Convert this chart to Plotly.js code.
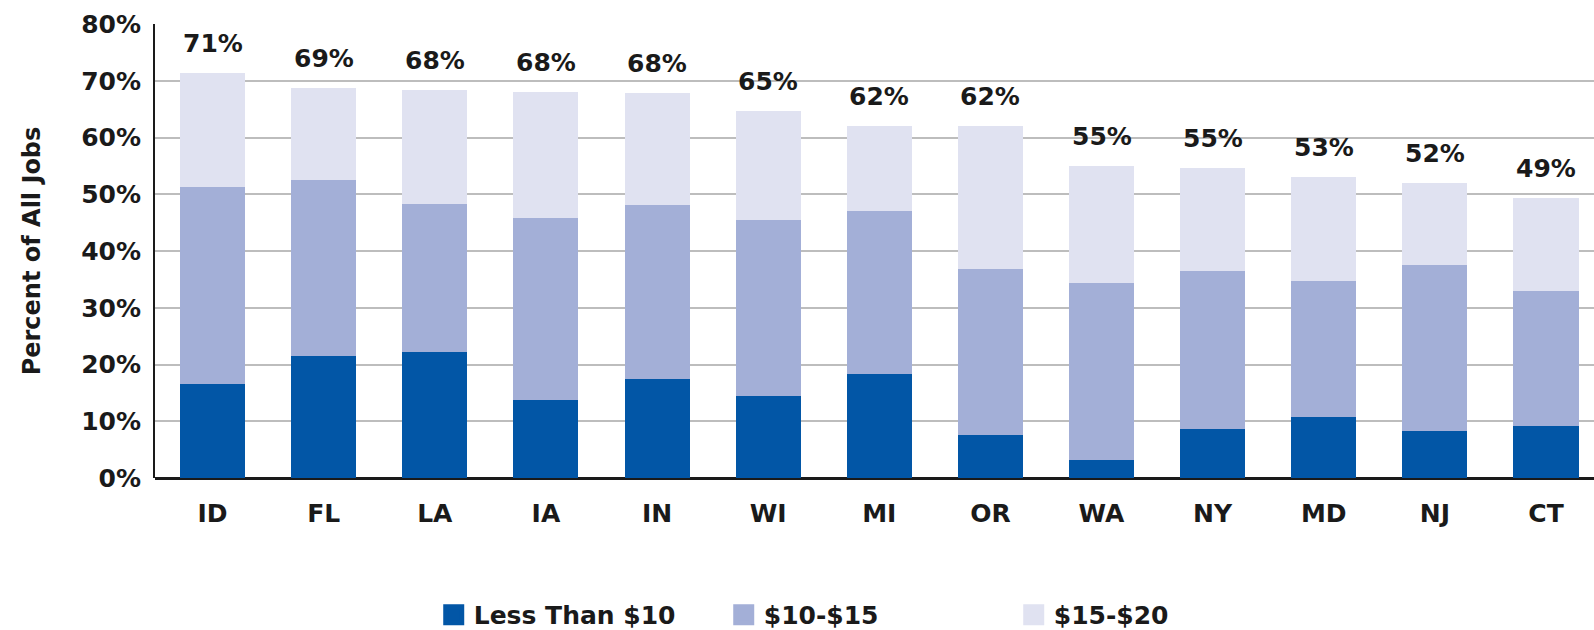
<!DOCTYPE html>
<html>
<head>
<meta charset="utf-8">
<script src="https://cdn.plot.ly/plotly-3.0.1.min.js"></script>
<style>html,body{margin:0;padding:0;background:#fff;}#chart{width:1594px;height:630px;}</style>
</head>
<body>
<div id="chart"></div>
<script>
const states = ["ID","FL","LA","IA","IN","WI","MI","OR","WA","NY","MD","NJ","CT"];
const lessThan10 = [16.6, 21.5, 22.2, 13.7, 17.4, 14.5, 18.3, 7.6, 3.1, 8.7, 10.7, 8.2, 9.1];
const from10to15 = [34.6, 31.0, 26.0, 32.1, 30.7, 30.9, 28.7, 29.3, 31.2, 27.7, 24.1, 29.4, 23.9];
const from15to20 = [20.2, 16.3, 20.1, 22.2, 19.8, 19.3, 15.0, 25.1, 20.7, 18.3, 18.2, 14.3, 16.4];
const totalLabels = ["71%","69%","68%","68%","68%","65%","62%","62%","55%","55%","53%","52%","49%"];
const seriesNames = ["Less Than $10","$10-$15","$15-$20"];
const yTicks = [0,10,20,30,40,50,60,70,80];

const colors = ["#0256A6","#A3AFD7","#E0E2F1"];
const FONT = "DejaVu Sans, Liberation Sans, Arial, sans-serif";
const seriesValues = [lessThan10, from10to15, from15to20];

const traces = [];
seriesValues.forEach((vals, i) => {
  traces.push({
    type: "bar", x: states, y: vals, name: seriesNames[i],
    marker: {color: colors[i]}, showlegend: false, legendgroup: "g" + i,
    hoverinfo: "x+y+name"
  });
});
seriesValues.forEach((vals, i) => {
  traces.push({
    type: "scatter", mode: "markers", x: [null], y: [null], name: seriesNames[i],
    marker: {symbol: "square", size: 16, color: colors[i], line: {color: colors[i], width: 5}},
    legendgroup: "g" + i, showlegend: true, hoverinfo: "skip"
  });
});

const totals = states.map((s, k) => lessThan10[k] + from10to15[k] + from15to20[k]);
const annotations = states.map((s, k) => ({
  x: s, y: totals[k], xref: "x", yref: "y", text: totalLabels[k],
  showarrow: false, yanchor: "bottom", yshift: 13,
  font: {family: FONT, size: 25, weight: "bold", color: "#1a1a1a"}
}));

const layout = {
  width: 1594, height: 630,
  paper_bgcolor: "#ffffff", plot_bgcolor: "#ffffff",
  margin: {l: 155, r: 0, t: 24, b: 152},
  barmode: "stack", bargap: 0.415,
  font: {family: FONT, color: "#1a1a1a"},
  xaxis: {
    type: "category", range: [-0.518, 12.432],
    showgrid: false, zeroline: false, showline: false,
    ticks: "", ticklabelstandoff: 18,
    tickfont: {family: FONT, size: 25, weight: "bold", color: "#1a1a1a"}
  },
  yaxis: {
    range: [0, 80], tickvals: yTicks, ticktext: yTicks.map(v => v + "%"),
    showgrid: true, gridcolor: "#bdbdbd", gridwidth: 2,
    zeroline: true, zerolinecolor: "#1a1a1a", zerolinewidth: 3,
    showline: true, linecolor: "#1a1a1a", linewidth: 2,
    ticks: "", ticklabelstandoff: 7,
    tickfont: {family: FONT, size: 25, weight: "bold", color: "#1a1a1a"},
    title: {text: "Percent of All Jobs", standoff: 34,
            font: {family: FONT, size: 24, weight: "bold", color: "#1a1a1a"}}
  },
  legend: {
    orientation: "h", xref: "container", yref: "container",
    x: 0.545, xanchor: "center", y: 0.024, yanchor: "middle",
    entrywidth: 245, entrywidthmode: "pixels",
    font: {family: FONT, size: 25, weight: "bold", color: "#1a1a1a"},
    traceorder: "normal"
  },
  annotations: annotations,
  showlegend: true
};

Plotly.newPlot("chart", traces, layout, {displayModeBar: false, staticPlot: true});
</script>
</body>
</html>
